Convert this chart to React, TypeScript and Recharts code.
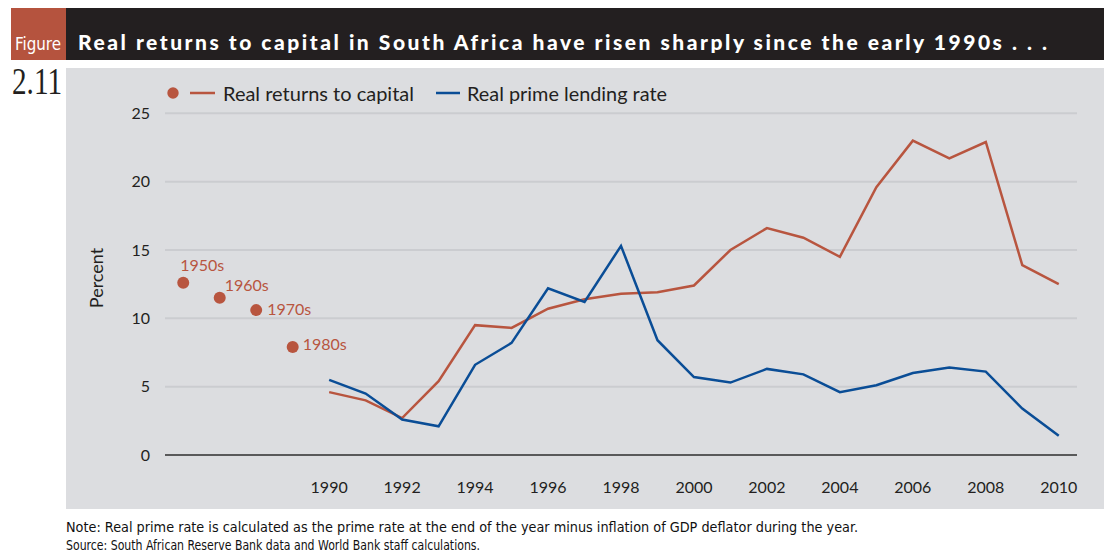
import React from "react";
import {
  ComposedChart,
  Line,
  XAxis,
  YAxis,
  CartesianGrid,
  LabelList,
} from "recharts";

const years = [
  1990, 1991, 1992, 1993, 1994, 1995, 1996, 1997, 1998, 1999, 2000,
  2001, 2002, 2003, 2004, 2005, 2006, 2007, 2008, 2009, 2010,
];
const realReturns = [
  4.6, 4.0, 2.7, 5.4, 9.5, 9.3, 10.7, 11.4, 11.8, 11.9, 12.4,
  15.0, 16.6, 15.9, 14.5, 19.6, 23.0, 21.7, 22.9, 13.9, 12.5,
];
const primeRate = [
  5.5, 4.5, 2.6, 2.1, 6.6, 8.2, 12.2, 11.2, 15.3, 8.4, 5.7,
  5.3, 6.3, 5.9, 4.6, 5.1, 6.0, 6.4, 6.1, 3.4, 1.4,
];
const decadeNames = ["1950s", "1960s", "1970s", "1980s"];
const decadeSlots = [1986, 1987, 1988, 1989];
const decadeReturns = [12.6, 11.5, 10.6, 7.9];
const xTicks = [1990, 1992, 1994, 1996, 1998, 2000, 2002, 2004, 2006, 2008, 2010];
const yTicks = [0, 5, 10, 15, 20, 25];

const RED = "#b8553f";
const BLUE = "#0a4d96";
const FONT = "Lato, 'Open Sans', sans-serif";
const NARROW = "'DejaVu Sans Condensed', 'Liberation Sans Narrow', sans-serif";

// label offsets for decade dots (px from dot centre)
const decadeLabelOffset = [
  [-3, -18],
  [5, -13],
  [11, -2],
  [10, -4],
];

const rows = [
  ...decadeSlots.map((yr, i) => ({
    year: yr,
    decade: decadeReturns[i],
    decadeName: decadeNames[i],
    returns: null,
    prime: null,
  })),
  ...years.map((yr, i) => ({
    year: yr,
    decade: null,
    decadeName: null,
    returns: realReturns[i],
    prime: primeRate[i],
  })),
];

const DecadeLabel = (props: any) => {
  const { x, y, value, index } = props;
  if (!value) return null;
  const off = decadeLabelOffset[index] || [8, 0];
  return (
    <text
      x={x + off[0]}
      y={y + off[1]}
      fill={RED}
      fontSize={16}
      fontFamily={FONT}
      dominantBaseline="central"
    >
      {value}
    </text>
  );
};

export default function App() {
  return (
    <div
      style={{
        position: "absolute",
        left: 0,
        top: 0,
        width: 1107,
        height: 558,
        background: "#fff",
        overflow: "hidden",
      }}
    >
      {/* header, panel, notes, legend */}
      <svg
        width={1107}
        height={558}
        style={{ position: "absolute", left: 0, top: 0 }}
      >
        <rect x={11} y={8} width={1093} height={52} fill="#231f20" />
        <rect x={11} y={8} width={55} height={52} fill="#b5533e" />
        <rect x={66} y={68} width={1038} height={441} fill="#dcdde0" />
        <text
          x={15}
          y={50}
          fill="#fff"
          fontSize={18}
          fontFamily={NARROW}
          textLength={46}
          lengthAdjust="spacingAndGlyphs"
        >
          Figure
        </text>
        <text
          x={78}
          y={50}
          fill="#fff"
          fontSize={21}
          fontWeight={900}
          fontFamily={FONT}
          textLength={969}
          lengthAdjust="spacing"
        >
          Real returns to capital in South Africa have risen sharply since the early 1990s . . .
        </text>
        <text
          x={12}
          y={94}
          fill="#231f20"
          fontSize={38}
          fontFamily="'Liberation Serif', 'DejaVu Serif', serif"
          textLength={50}
          lengthAdjust="spacingAndGlyphs"
        >
          2.11
        </text>
        <text
          x={66}
          y={532}
          fill="#111"
          fontSize={14.5}
          fontFamily={NARROW}
          textLength={792}
          lengthAdjust="spacingAndGlyphs"
        >
          Note: Real prime rate is calculated as the prime rate at the end of the year minus inflation of GDP deflator during the year.
        </text>
        <text
          x={66}
          y={550}
          fill="#111"
          fontSize={14.5}
          fontFamily={NARROW}
          textLength={414}
          lengthAdjust="spacingAndGlyphs"
        >
          Source: South African Reserve Bank data and World Bank staff calculations.
        </text>
        <circle cx={173} cy={93} r={5.7} fill={RED} />
        <line x1={190} x2={215} y1={93} y2={93} stroke={RED} strokeWidth={2.5} />
        <text
          x={223}
          y={93}
          fontSize={19}
          fontFamily={FONT}
          fill="#231f20"
          dominantBaseline="central"
          textLength={191}
          lengthAdjust="spacingAndGlyphs"
        >
          Real returns to capital
        </text>
        <line x1={436} x2={460} y1={93} y2={93} stroke={BLUE} strokeWidth={2.5} />
        <text
          x={467}
          y={93}
          fontSize={19}
          fontFamily={FONT}
          fill="#231f20"
          dominantBaseline="central"
          textLength={200}
          lengthAdjust="spacingAndGlyphs"
        >
          Real prime lending rate
        </text>
        <text
          x={96}
          y={278}
          fontSize={18}
          fontFamily={FONT}
          fill="#231f20"
          textAnchor="middle"
          dominantBaseline="central"
          transform="rotate(-90 96 278)"
        >
          Percent
        </text>
      </svg>

      <div style={{ position: "absolute", left: 0, top: 0 }}>
        <ComposedChart
          width={1107}
          height={558}
          data={rows}
          margin={{ top: 113.3, right: 30, bottom: 73, left: 105 }}
        >
          <CartesianGrid vertical={false} stroke="#cbccd0" strokeWidth={2} />
          <XAxis
            dataKey="year"
            type="number"
            domain={[1985.5, 2010.5]}
            ticks={xTicks}
            allowDataOverflow
            height={30}
            tickLine={false}
            tickSize={0}
            tickMargin={27}
            axisLine={{ stroke: "#333", strokeWidth: 1.4 }}
            tick={{ fill: "#231f20", fontSize: 16, fontFamily: FONT }}
          />
          <YAxis
            type="number"
            domain={[0, 25]}
            ticks={yTicks}
            width={60}
            axisLine={false}
            tickLine={false}
            tickSize={0}
            tickMargin={15}
            tick={{ fill: "#231f20", fontSize: 16, fontFamily: FONT }}
          />
          <Line
            dataKey="decade"
            stroke="none"
            dot={{ r: 6, fill: RED, stroke: "none" }}
            isAnimationActive={false}
          >
            <LabelList dataKey="decadeName" content={DecadeLabel} />
          </Line>
          <Line
            dataKey="returns"
            stroke={RED}
            strokeWidth={2.5}
            dot={false}
            isAnimationActive={false}
          />
          <Line
            dataKey="prime"
            stroke={BLUE}
            strokeWidth={2.5}
            dot={false}
            isAnimationActive={false}
          />
        </ComposedChart>
      </div>
    </div>
  );
}
